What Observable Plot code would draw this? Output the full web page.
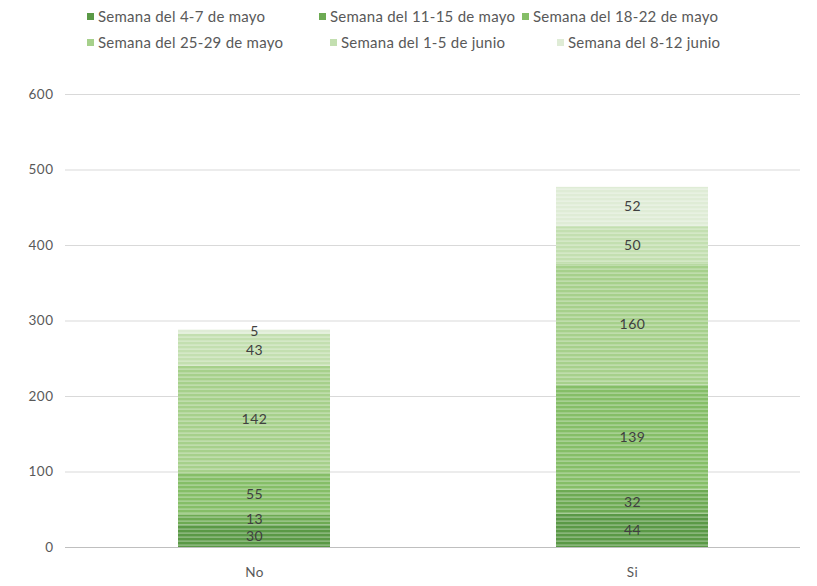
<!DOCTYPE html>
<html><head><meta charset="utf-8">
<script src="https://cdn.jsdelivr.net/npm/d3@7"></script>
<script src="https://cdn.jsdelivr.net/npm/@observablehq/plot@0.6"></script>
<style>
body{margin:0;background:#fff;font-family:Lato,"Open Sans",sans-serif;}
#wrap{position:relative;width:817px;height:586px;overflow:hidden;}
#legend{position:absolute;left:0;top:0;width:817px;height:70px;}
.item{position:absolute;display:flex;align-items:center;font-size:15px;letter-spacing:0.25px;color:#595959;white-space:nowrap;}
.sw{width:7px;height:7px;margin-right:4px;}
#chart{position:absolute;left:0;top:70px;}
</style></head>
<body><div id="wrap"><div id="legend"></div><div id="chart"></div></div>
<script>
const categories = ["No", "Si"];
const series = ["Semana del 4-7 de mayo", "Semana del 11-15 de mayo", "Semana del 18-22 de mayo",
                "Semana del 25-29 de mayo", "Semana del 1-5 de junio", "Semana del 8-12 junio"];
const valuesNo = [30, 13, 55, 142, 43, 5];
const valuesSi = [44, 32, 139, 160, 50, 52];
const colors = ["#5a9946", "#6daa53", "#85be67", "#a6d08b", "#c3dfb0", "#dfecd6"];
const yTicks = [0, 100, 200, 300, 400, 500, 600];

const data = [];
series.forEach((s, i) => {
  data.push({cat: "No", series: s, idx: i, value: valuesNo[i]});
  data.push({cat: "Si", series: s, idx: i, value: valuesSi[i]});
});

// legend
const legendPos = [[87, 17], [319, 17], [522, 17], [87, 43], [330, 43], [557, 43]];
const legend = document.getElementById("legend");
series.forEach((s, i) => {
  const d = document.createElement("div");
  d.className = "item";
  d.style.left = legendPos[i][0] + "px";
  d.style.top = (legendPos[i][1] - 10) + "px";
  d.innerHTML = `<span class="sw" style="background:${colors[i]}"></span><span>${s}</span>`;
  legend.appendChild(d);
});

const chart = Plot.plot({
  width: 817,
  height: 516,
  marginTop: 24,
  marginBottom: 39,
  marginLeft: 65,
  marginRight: 17,
  style: {fontFamily: "Lato, 'Open Sans', sans-serif", fontSize: "13.5px", color: "#595959", background: "#fff", letterSpacing: "0.5px"},
  x: {domain: categories, paddingInner: 0.598, paddingOuter: 0.271, align: 0.55, label: null, tickSize: 0, tickPadding: 20},
  y: {domain: [0, 600], ticks: yTicks, label: null, tickSize: 0, tickPadding: 12, grid: false},
  color: {type: "identity"},
  marks: [
    Plot.ruleY(yTicks.filter(t => t > 0), {stroke: "#d9d9d9", strokeWidth: 1}),
    Plot.barY(data, {x: "cat", y: "value", fill: d => `url(#pat${d.idx})`, order: null}),
    Plot.ruleY([0], {stroke: "#bfbfbf", strokeWidth: 1.2}),
    Plot.text(data, Plot.stackY({x: "cat", y: "value", text: d => String(d.value), fill: "#404040", fontSize: 14}))
  ]
});

// stripe patterns
const ns = "http://www.w3.org/2000/svg";
const defs = document.createElementNS(ns, "defs");
colors.forEach((c, i) => {
  const p = document.createElementNS(ns, "pattern");
  p.setAttribute("id", "pat" + i);
  p.setAttribute("patternUnits", "userSpaceOnUse");
  p.setAttribute("width", 8);
  p.setAttribute("height", 4);
  const r1 = document.createElementNS(ns, "rect");
  r1.setAttribute("width", 8); r1.setAttribute("height", 4); r1.setAttribute("fill", c);
  const r2 = document.createElementNS(ns, "rect");
  r2.setAttribute("y", 2.5); r2.setAttribute("width", 8); r2.setAttribute("height", 1.2);
  r2.setAttribute("fill", "#ffffff"); r2.setAttribute("fill-opacity", 0.4);
  p.appendChild(r1); p.appendChild(r2);
  defs.appendChild(p);
});
chart.insertBefore(defs, chart.firstChild);
document.getElementById("chart").appendChild(chart);
</script></body></html>
